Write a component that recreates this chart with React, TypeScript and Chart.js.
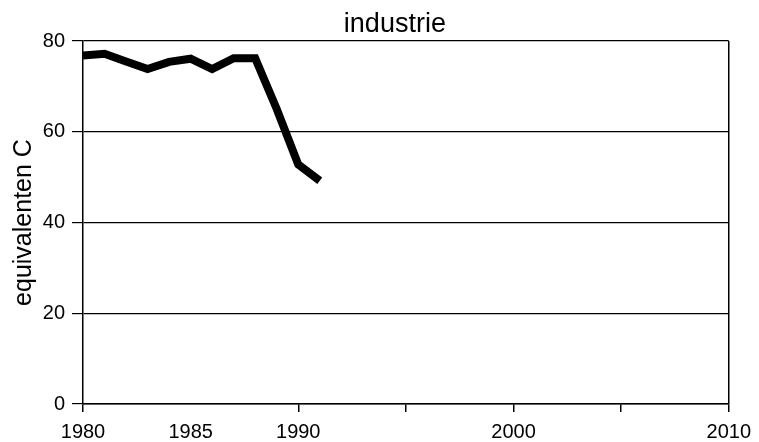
import React, { useEffect, useRef } from "react";
import { Chart, registerables } from "chart.js";

Chart.register(...registerables);

const years = [1980, 1981, 1982, 1983, 1984, 1985, 1986, 1987, 1988, 1989, 1990, 1991];
const industrie = [76.8, 77.2, 75.5, 73.8, 75.4, 76.1, 73.8, 76.2, 76.2, 65.0, 52.8, 49.2];
const xTickValues = [1980, 1985, 1990, 1995, 2000, 2005, 2010];
const xTickLabels = ["1980", "1985", "1990", "", "2000", "", "2010"];
const yTickValues = [0, 20, 40, 60, 80];
const chartTitle = "industrie";

const FONT = "'Liberation Sans', Arial, Helvetica, sans-serif";

const titlePlugin = {
  id: "customTitle",
  afterDraw(chart: any) {
    const { ctx, chartArea } = chart;
    ctx.save();
    ctx.fillStyle = "#000";
    ctx.font = `27px ${FONT}`;
    ctx.textAlign = "center";
    ctx.textBaseline = "alphabetic";
    const cx = (chartArea.left + chartArea.right) / 2 - 11;
    ctx.fillText(chartTitle, cx, chartArea.top - 9);
    ctx.restore();
  },
};

export default function App() {
  const ref = useRef<HTMLCanvasElement | null>(null);

  useEffect(() => {
    document.body.style.margin = "0";
    const canvas = ref.current;
    if (!canvas) return;
    const chart = new Chart(canvas, {
      type: "line",
      data: {
        datasets: [
          {
            label: chartTitle,
            data: years.map((yr, i) => ({ x: yr, y: industrie[i] })),
            borderColor: "#000",
            borderWidth: 8,
            pointRadius: 0,
            tension: 0,
            fill: false,
            borderJoinStyle: "miter",
          },
        ],
      },
      options: {
        animation: false,
        responsive: false,
        layout: { padding: { top: 41, right: 28, bottom: 1, left: 0 } },
        plugins: {
          legend: { display: false },
          tooltip: { enabled: false },
          title: { display: false },
        },
        scales: {
          x: {
            type: "linear",
            min: 1980,
            max: 2010,
            afterBuildTicks: (scale: any) => {
              scale.ticks = xTickValues.map((v) => ({ value: v }));
            },
            afterFit: (scale: any) => {
              scale.height = 37;
            },
            ticks: {
              autoSkip: false,
              maxRotation: 0,
              color: "#000",
              padding: 8,
              font: { family: FONT, size: 20 },
              callback: (value: any) => {
                const i = xTickValues.indexOf(Number(value));
                return i >= 0 ? xTickLabels[i] : "";
              },
            },
            grid: {
              drawOnChartArea: true,
              drawTicks: true,
              tickLength: 8,
              lineWidth: 1.5,
              color: (ctx: any) => (ctx.tick && ctx.tick.value === 2010 ? "#000" : "rgba(0,0,0,0)"),
              tickColor: (ctx: any) => (ctx.tick && ctx.tick.value === 1985 ? "rgba(0,0,0,0)" : "#000"),
            },
            border: { display: true, color: "#000", width: 1.5 },
          },
          y: {
            type: "linear",
            min: 0,
            max: 80,
            afterBuildTicks: (scale: any) => {
              scale.ticks = yTickValues.map((v) => ({ value: v }));
            },
            afterFit: (scale: any) => {
              scale.width = 83;
            },
            title: {
              display: true,
              text: "equivalenten C",
              color: "#000",
              font: { family: FONT, size: 25, weight: "normal" },
              padding: { top: 9, bottom: 0 },
            },
            ticks: {
              color: "#000",
              padding: 7,
              font: { family: FONT, size: 20 },
            },
            grid: {
              color: "#000",
              lineWidth: 1.2,
              tickLength: 11,
              drawTicks: true,
            },
            border: { display: true, color: "#000", width: 1.5 },
          },
        },
      },
      plugins: [titlePlugin],
    });
    return () => chart.destroy();
  }, []);

  return (
    <div style={{ width: 759, height: 442, background: "#fff" }}>
      <canvas ref={ref} width={759} height={442} style={{ display: "block" }} />
    </div>
  );
}
